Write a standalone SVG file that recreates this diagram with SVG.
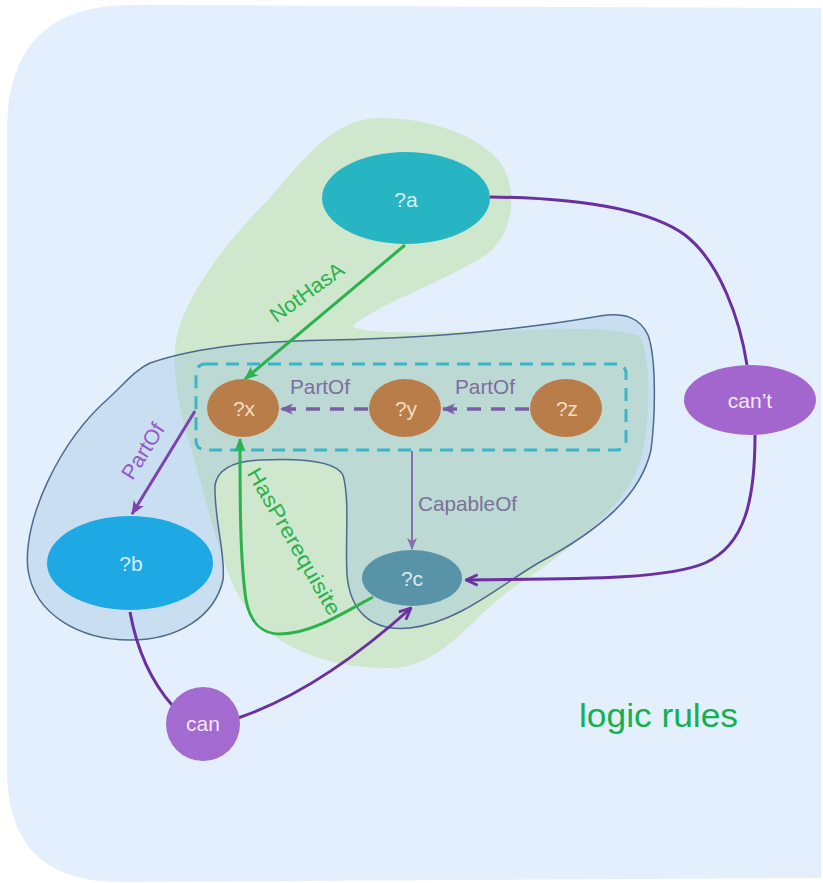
<svg xmlns="http://www.w3.org/2000/svg" width="823" height="883" viewBox="0 0 823 883">
<defs>
<style>
.lbl{font-family:"Liberation Sans","Open Sans",sans-serif;}
.node-t{font-family:"Liberation Sans","Open Sans",sans-serif;font-size:21px;text-anchor:middle;}
.dark{fill:none;stroke:#6b2f9f;stroke-width:3;}
.green{fill:none;stroke:#2bb24c;stroke-width:3;}
.dash{fill:none;stroke:#7a5ea6;stroke-width:3.5;stroke-dasharray:14 10;}
</style>
<marker id="arrDark" viewBox="0 0 12 12" refX="11" refY="6" markerWidth="14" markerHeight="14" markerUnits="userSpaceOnUse" orient="auto">
<path d="M1,1.5 L11,6 L1,10.5" fill="none" stroke="#6b2f9f" stroke-width="2.4" stroke-linejoin="miter"/>
</marker>
<marker id="arrPart" viewBox="0 0 12 12" refX="11" refY="6" markerWidth="14" markerHeight="14" markerUnits="userSpaceOnUse" orient="auto">
<path d="M0,1 L12,6 L0,11 L3,6 Z" fill="#7c43b0"/>
</marker>
<marker id="arrGreen" viewBox="0 0 12 12" refX="11" refY="6" markerWidth="14" markerHeight="14" markerUnits="userSpaceOnUse" orient="auto">
<path d="M0,1 L12,6 L0,11 L3,6 Z" fill="#2bb24c"/>
</marker>
<marker id="arrDash" viewBox="0 0 12 12" refX="11" refY="6" markerWidth="13" markerHeight="13" markerUnits="userSpaceOnUse" orient="auto">
<path d="M0,1 L12,6 L0,11 L3,6 Z" fill="#7a5ea6"/>
</marker>
<marker id="arrCap" viewBox="0 0 12 12" refX="11" refY="6" markerWidth="12" markerHeight="12" markerUnits="userSpaceOnUse" orient="auto">
<path d="M0,1 L12,6 L0,11 L3,6 Z" fill="#8a6fae"/>
</marker>
</defs>
<rect width="823" height="883" fill="#ffffff"/>
<!-- panel -->
<path d="M7,130 Q7,5 132,5 L821,8 L821,878 L120,882 Q7,882 7,770 Z" fill="#e3effc"/>
<!-- green region -->
<path id="green-region" d="M380,118 C430,118 478,135 500,162 C518,188 514,228 492,250 C460,276 385,300 352,326 C362,334 420,333 500,331 C560,329 615,326 640,336 C652,362 650,420 642,455 C630,505 570,550 510,590 C470,620 440,668 390,668 C330,668 282,650 252,616 C226,584 214,530 200,480 C186,430 172,392 175,348 C180,300 228,240 268,200 C300,165 330,118 380,118 Z" fill="#cee7cd"/>
<!-- blue region -->
<path id="blue-region" d="M150,363 C200,346 262,341 330,340 C420,338 520,330 600,316 C625,312 640,318 648,335 C657,360 655,420 651,450 C641,495 600,530 540,562 C500,585 460,622 410,628 C370,632 350,610 347,575 C345,540 350,500 343,475 C335,460 300,458 260,460 C235,461 218,468 215,485 C214,520 226,555 223,580 C215,615 180,640 130,640 C80,640 35,615 28,570 C22,520 60,440 110,397 C125,383 135,370 150,363 Z" fill="#9bbfe0" fill-opacity="0.35" stroke="#4d6a8c" stroke-width="1.5"/>
<!-- dashed group box -->
<rect id="group-box" x="196" y="364" width="430" height="86" rx="9" fill="none" stroke="#3ab6c7" stroke-width="3" stroke-dasharray="13 8"/>

<g id="connectors">
<path class="dark" d="M490,197 C580,198 650,210 685,235 C720,262 740,320 747,365"/>
<path class="dark" d="M755,435 C755,500 745,545 705,563 C670,578 600,579 466,580" marker-end="url(#arrDark)"/>
<path class="dark" d="M130,612 C137,650 150,680 172,705"/>
<path class="dark" d="M238,718 Q320,690 411,608" marker-end="url(#arrDark)"/>
<path d="M195,411 L132,514" fill="none" stroke="#7c43b0" stroke-width="3" marker-end="url(#arrPart)"/>
<path class="green" d="M405,245 L245,379" marker-end="url(#arrGreen)"/>
<path class="green" d="M373,597 C340,615 310,634 280,634 C262,634 250,622 246,600 C240,560 240,500 240,439" marker-end="url(#arrGreen)"/>
<path class="dash" d="M368,409 L281,409" marker-end="url(#arrDash)"/>
<path class="dash" d="M529,409 L443,409" marker-end="url(#arrDash)"/>
<path d="M412,451 L412,549" fill="none" stroke="#8a6fae" stroke-width="2" marker-end="url(#arrCap)"/>
<text class="lbl" x="320" y="394" font-size="21" fill="#7d6e9e" text-anchor="middle" textLength="60" lengthAdjust="spacingAndGlyphs">PartOf</text>
<text class="lbl" x="485" y="394" font-size="21" fill="#7d6e9e" text-anchor="middle" textLength="60" lengthAdjust="spacingAndGlyphs">PartOf</text>
<text class="lbl" x="418" y="511" font-size="21" fill="#7a7198" textLength="99" lengthAdjust="spacingAndGlyphs">CapableOf</text>
<text class="lbl" x="0" y="0" font-size="21" fill="#9258c8" text-anchor="middle" textLength="62" lengthAdjust="spacingAndGlyphs" transform="translate(149,455) rotate(-58)">PartOf</text>
<text class="lbl" x="0" y="0" font-size="21" fill="#2bb24c" text-anchor="middle" textLength="86" lengthAdjust="spacingAndGlyphs" transform="translate(311,298) rotate(-36)">NotHasA</text>
<text class="lbl" x="0" y="0" font-size="21" fill="#2bb24c" text-anchor="middle" textLength="166" lengthAdjust="spacingAndGlyphs" transform="translate(288,545) rotate(60)">HasPrerequisite</text>
</g>

<g id="node-a"><ellipse cx="406" cy="198" rx="84" ry="46" fill="#27b5c3"/><text class="node-t" x="406" y="207" fill="#d8f0f3">?a</text></g>
<g id="node-x"><ellipse cx="243" cy="408" rx="36" ry="29" fill="#b87d48"/><text class="node-t" x="244" y="416" fill="#f3dcc0">?x</text></g>
<g id="node-y"><ellipse cx="405" cy="408" rx="36" ry="29" fill="#b87d48"/><text class="node-t" x="406" y="416" fill="#f3dcc0">?y</text></g>
<g id="node-z"><ellipse cx="566" cy="408" rx="36" ry="29" fill="#b87d48"/><text class="node-t" x="567" y="416" fill="#f3dcc0">?z</text></g>
<g id="node-b"><ellipse cx="130" cy="563" rx="83" ry="47" fill="#1ea9e5"/><text class="node-t" x="131" y="571" fill="#d8eef8">?b</text></g>
<g id="node-c"><ellipse cx="412" cy="578" rx="50" ry="28" fill="#5893a8"/><text class="node-t" x="412" y="586" fill="#dde8ee" font-size="20">?c</text></g>
<g id="node-cant"><ellipse cx="750" cy="400" rx="66" ry="35" fill="#a366cf"/><text class="node-t" x="750" y="408" fill="#f3e8f8">can’t</text></g>
<g id="node-can"><circle cx="203" cy="724" r="37" fill="#a36bd0"/><text class="node-t" x="203" y="731" fill="#f3e8f8" font-size="20">can</text></g>

<text class="lbl" x="579" y="727" font-size="34" fill="#14b050" textLength="159" lengthAdjust="spacingAndGlyphs">logic rules</text>
</svg>
